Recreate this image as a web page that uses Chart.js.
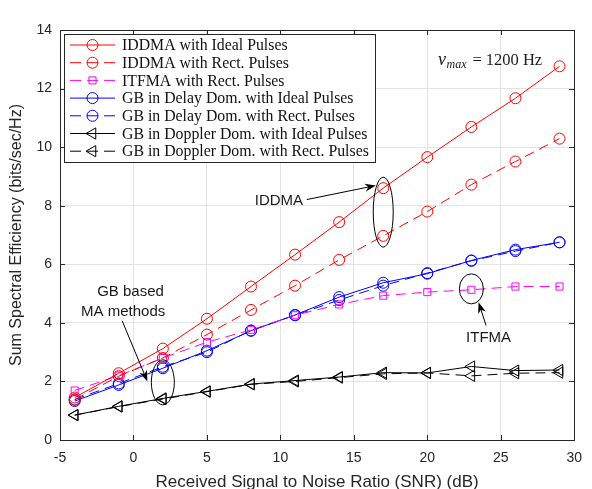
<!DOCTYPE html>
<html>
<head>
<meta charset="utf-8">
<script src="https://cdn.jsdelivr.net/npm/chart.js@4/dist/chart.umd.min.js"></script>
<style>
  body { margin: 0; background: #fff; }
  #wrap { width: 592px; height: 489px; }
</style>
</head>
<body>
<div id="wrap"><canvas id="myChart" width="592" height="489"></canvas></div>
<script>
// SNR points (dB)
const SNR = [-4, -1, 2, 5, 8, 11, 14, 17, 20, 23, 26, 29];

// sum spectral efficiency (bits/sec/Hz)
const IDDMA_IDEAL = [1.45, 2.28, 3.12, 4.14, 5.24, 6.33, 7.44, 8.6, 9.66, 10.69, 11.67, 12.76];
const IDDMA_RECT = [1.38, 2.18, 2.8, 3.6, 4.44, 5.27, 6.15, 6.97, 7.8, 8.72, 9.51, 10.29];
const ITFMA_RECT = [1.69, 2.2, 2.8, 3.34, 3.76, 4.26, 4.63, 4.93, 5.05, 5.13, 5.24, 5.24];
const GB_DELAY_IDEAL = [1.33, 1.88, 2.45, 3.05, 3.73, 4.27, 4.88, 5.37, 5.68, 6.13, 6.5, 6.75];
const GB_DELAY_RECT = [1.38, 1.93, 2.5, 3.0, 3.74, 4.26, 4.78, 5.27, 5.7, 6.12, 6.45, 6.75];
const GB_DOPPLER_IDEAL = [0.85, 1.15, 1.42, 1.66, 1.91, 2.03, 2.15, 2.3, 2.29, 2.51, 2.37, 2.39];
const GB_DOPPLER_RECT = [0.85, 1.14, 1.4, 1.65, 1.9, 2.0, 2.13, 2.26, 2.29, 2.19, 2.28, 2.3];

const X_TICKS = [-5, 0, 5, 10, 15, 20, 25, 30];
const Y_TICKS = [0, 2, 4, 6, 8, 10, 12, 14];

const SERIES = [
    { label: 'IDDMA with Ideal Pulses', data: IDDMA_IDEAL, color: '#ff0000', dash: [], style: 'circle' },
    { label: 'IDDMA with Rect. Pulses', data: IDDMA_RECT, color: '#ff0000', dash: [10, 6], style: 'circle' },
    { label: 'ITFMA with Rect. Pulses', data: ITFMA_RECT, color: '#ff00ff', dash: [10, 6], style: 'rect' },
    { label: 'GB in Delay Dom. with Ideal Pulses', data: GB_DELAY_IDEAL, color: '#0000ff', dash: [], style: 'circle' },
    { label: 'GB in Delay Dom. with Rect. Pulses', data: GB_DELAY_RECT, color: '#0000ff', dash: [10, 6], style: 'circle' },
    { label: 'GB in Doppler Dom. with Ideal Pulses', data: GB_DOPPLER_IDEAL, color: '#000000', dash: [], style: 'triangle' },
    { label: 'GB in Doppler Dom. with Rect. Pulses', data: GB_DOPPLER_RECT, color: '#000000', dash: [10, 6], style: 'triangle' }
];

const AXIS_COLOR = '#262626';
const SANS = "'Liberation Sans', Arial, sans-serif";
const SERIF = "'Liberation Serif', 'DejaVu Serif', serif";

function markerRadius(style) {
    if (style === 'triangle') return 6.5;
    if (style === 'rect') return 5;
    return 5.5;
}

/** buildDatasets: turns the series list into chart.js datasets */
function buildDatasets() {
    return SERIES.map(s => ({
        label: s.label,
        data: s.data.map((v, i) => ({ x: SNR[i], y: v })),
        borderColor: s.color,
        backgroundColor: s.color,
        borderWidth: 1,
        borderDash: s.dash,
        pointStyle: s.style,
        pointRadius: markerRadius(s.style),
        pointRotation: s.style === 'triangle' ? 270 : 0,
        pointBorderColor: s.color,
        pointBackgroundColor: 'rgba(0,0,0,0)',
        pointBorderWidth: 1,
        tension: 0
    }));
}

// frame round the plot area with inward ticks on all four sides
const framePlugin = {
    id: 'frame',
    afterDatasetsDraw(chart) {
        const { ctx, chartArea: a, scales } = chart;
        ctx.save();
        ctx.strokeStyle = AXIS_COLOR;
        ctx.lineWidth = 1;
        ctx.strokeRect(Math.round(a.left) + 0.5, Math.round(a.top) + 0.5,
            Math.round(a.right - a.left), Math.round(a.bottom - a.top));
        ctx.beginPath();
        for (const t of X_TICKS) {
            const px = Math.round(scales.x.getPixelForValue(t)) + 0.5;
            ctx.moveTo(px, a.bottom); ctx.lineTo(px, a.bottom - 5);
            ctx.moveTo(px, a.top); ctx.lineTo(px, a.top + 5);
        }
        for (const t of Y_TICKS) {
            const py = Math.round(scales.y.getPixelForValue(t)) + 0.5;
            ctx.moveTo(a.left, py); ctx.lineTo(a.left + 5, py);
            ctx.moveTo(a.right, py); ctx.lineTo(a.right - 5, py);
        }
        ctx.stroke();
        ctx.restore();
    }
};

function arrow(ctx, x1, y1, x2, y2) {
    const ang = Math.atan2(y2 - y1, x2 - x1);
    const len = 11, half = 4;
    ctx.beginPath();
    ctx.moveTo(x1, y1);
    ctx.lineTo(x2 - Math.cos(ang) * len * 0.6, y2 - Math.sin(ang) * len * 0.6);
    ctx.stroke();
    ctx.beginPath();
    ctx.moveTo(x2, y2);
    ctx.lineTo(x2 - Math.cos(ang) * len + Math.sin(ang) * half, y2 - Math.sin(ang) * len - Math.cos(ang) * half);
    ctx.lineTo(x2 - Math.cos(ang) * len * 0.7, y2 - Math.sin(ang) * len * 0.7);
    ctx.lineTo(x2 - Math.cos(ang) * len - Math.sin(ang) * half, y2 - Math.sin(ang) * len + Math.cos(ang) * half);
    ctx.closePath();
    ctx.fill();
}

// ellipses, arrows and labels placed in data units
const ELLIPSES = [
    { x: 17, y: 7.78, rx: 10, ry: 35 },
    { x: 23, y: 5.16, rx: 12, ry: 15 },
    { x: 2, y: 1.97, rx: 11.5, ry: 22.5 }
];
const ARROWS = [
    { from: [11.8, 8.21], to: [16.5, 8.69] },
    { from: [24.0, 3.91], to: [23.49, 4.70] },
    { from: [-0.77, 4.07], to: [0.95, 2.0] }
];
const LABELS = [
    { text: 'IDDMA', x: 9.9, y: 8.15 },
    { text: 'ITFMA', x: 24.17, y: 3.49 },
    { text: 'GB based', x: -0.2, y: 5.05 },
    { text: 'MA methods', x: -0.7, y: 4.36 }
];

const notePlugin = {
    id: 'notes',
    afterDatasetsDraw(chart) {
        const { ctx, scales: { x, y } } = chart;
        const px = v => x.getPixelForValue(v);
        const py = v => y.getPixelForValue(v);
        ctx.save();
        ctx.strokeStyle = '#000';
        ctx.fillStyle = '#000';
        ctx.lineWidth = 1;
        for (const e of ELLIPSES) {
            ctx.beginPath();
            ctx.ellipse(px(e.x), py(e.y), e.rx, e.ry, 0, 0, Math.PI * 2);
            ctx.stroke();
        }
        for (const a of ARROWS) {
            arrow(ctx, px(a.from[0]), py(a.from[1]), px(a.to[0]), py(a.to[1]));
        }
        ctx.font = '15px ' + SANS;
        ctx.fillStyle = '#1a1a1a';
        ctx.textAlign = 'center';
        ctx.textBaseline = 'middle';
        for (const l of LABELS) {
            ctx.fillText(l.text, px(l.x), py(l.y));
        }

        // nu_max note
        ctx.textAlign = 'left';
        ctx.textBaseline = 'alphabetic';
        let tx = 438, ty = 65;
        ctx.font = 'italic 18px ' + SERIF;
        ctx.fillText('\u03bd', tx, ty);
        tx += ctx.measureText('\u03bd').width + 0.5;
        ctx.font = 'italic 12px ' + SERIF;
        ctx.fillText('max', tx, ty + 3);
        tx += ctx.measureText('max').width + 6;
        ctx.font = '16.5px ' + SERIF;
        ctx.fillText('=', tx, ty);
        tx += ctx.measureText('=').width + 4;
        ctx.fillText('1200 Hz', tx, ty);
        ctx.restore();
    }
};

// boxed legend in the top-left corner of the axes
const legendPlugin = {
    id: 'boxLegend',
    afterDraw(chart) {
        const ctx = chart.ctx;
        const box = { left: 64, top: 34, right: 375, bottom: 162 };
        ctx.save();
        ctx.fillStyle = '#fff';
        ctx.fillRect(box.left, box.top, box.right - box.left, box.bottom - box.top);
        ctx.strokeStyle = AXIS_COLOR;
        ctx.lineWidth = 1;
        ctx.strokeRect(box.left + 0.5, box.top + 0.5, box.right - box.left, box.bottom - box.top);

        // size the serif font so the longest entry fills the box as in the figure
        let size = 14;
        ctx.font = size + 'px ' + SERIF;
        const w = ctx.measureText(SERIES[6].label).width;
        size = Math.min(16, size * 247 / w);
        ctx.font = size.toFixed(2) + 'px ' + SERIF;

        SERIES.forEach((s, i) => {
            const yy = box.top + 11 + i * 17.7;
            ctx.strokeStyle = s.color;
            ctx.lineWidth = 1;
            ctx.beginPath();
            if (s.dash.length) {
                ctx.moveTo(70, yy); ctx.lineTo(81, yy);
                ctx.moveTo(87, yy); ctx.lineTo(98, yy);
                ctx.moveTo(104, yy); ctx.lineTo(115, yy);
            } else {
                ctx.moveTo(70, yy); ctx.lineTo(115, yy);
            }
            ctx.stroke();
            ctx.fillStyle = 'rgba(0,0,0,0)';
            Chart.helpers.drawPoint(ctx, {
                pointStyle: s.style,
                radius: markerRadius(s.style),
                rotation: s.style === 'triangle' ? 270 : 0,
                borderWidth: 1
            }, 92.5, yy);
            ctx.fillStyle = '#111';
            ctx.textAlign = 'left';
            ctx.textBaseline = 'middle';
            ctx.fillText(s.label, 122, yy + 1);
        });
        ctx.restore();
    }
};

const myChart = new Chart(document.getElementById('myChart'), {
    type: 'line',
    data: { datasets: buildDatasets() },
    options: {
        responsive: false,
        animation: false,
        layout: { padding: { left: 0, right: 14, top: 30, bottom: 0 } },
        plugins: {
            legend: { display: false },
            tooltip: { enabled: false }
        },
        scales: {
            x: {
                type: 'linear',
                min: -5,
                max: 30,
                afterBuildTicks: s => { s.ticks = X_TICKS.map(v => ({ value: v })); },
                afterFit: s => { s.height = 49; },
                ticks: { color: AXIS_COLOR, padding: 10, font: { family: SANS, size: 14 } },
                grid: { color: '#e3e3e3', drawTicks: false },
                border: { display: false },
                title: {
                    display: true,
                    text: 'Received Signal to Noise Ratio (SNR) (dB)',
                    color: AXIS_COLOR,
                    font: { family: SANS, size: 17, lineHeight: 0.8 },
                    padding: { top: 0, bottom: 0 }
                }
            },
            y: {
                min: 0,
                max: 14,
                afterBuildTicks: s => { s.ticks = Y_TICKS.map(v => ({ value: v })); },
                afterFit: s => { s.width = 60; },
                ticks: { color: AXIS_COLOR, padding: 8, font: { family: SANS, size: 14 } },
                grid: { color: '#e3e3e3', drawTicks: false },
                border: { display: false },
                title: {
                    display: true,
                    text: 'Sum Spectral Efficiency (bits/sec/Hz)',
                    color: AXIS_COLOR,
                    font: { family: SANS, size: 16 },
                    padding: { top: 7, bottom: 0 }
                }
            }
        }
    },
    plugins: [framePlugin, notePlugin, legendPlugin]
});
</script>
</body>
</html>
